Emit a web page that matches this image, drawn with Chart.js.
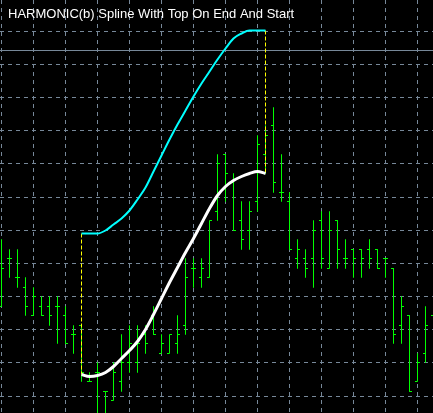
<!DOCTYPE html>
<html>
<head>
<meta charset="utf-8">
<script src="https://cdn.jsdelivr.net/npm/chart.js@4.4.1/dist/chart.umd.min.js"></script>
<style>
html,body{margin:0;padding:0;background:#000;overflow:hidden}
canvas{display:block;background:#000}
</style>
</head>
<body>
<canvas id="c" width="433" height="413"></canvas>
<script>
// ---- data (prices in pips) ----
const TITLE = 'HARMONIC(b) Spline With Top On End And Start';
const OPEN  = [13,18,16,15,12,13,13,13,12,10, 11,5,6,4,3,5,7,7,10,12, 8,8,9,11,17,16,16,23,29,26, 22,21,24,29,32,25,24,18,18,18, 22,17,22,18,19,19,19,19,18,17, 11,12,5,8,12];
const HIGH  = [20,19,19,16,15,14,14,14,13,11, 11,6,7,4,7,10,11,11,11,13, 10,10,12,18,18,18,22,29,29,27, 24,24,31,32,34,29,25,20,19,22, 23,23,22,20,19,19,20,19,18,17, 14,12,8,13,13];
const LOW   = [13,16,15,12,12,12,11,9,9,8, 5,5,1,1,3,4,6,6,8,10, 8,8,8,10,15,15,16,22,24,21, 19,19,23,27,25,24,19,17,16,15, 17,17,17,17,16,16,17,17,16,9, 9,4,5,7,11];
const CLOSE = [17,18,16,13,14,12,12,13,9,10, 6,5,6,4,6,7,9,9,9,10, 9,10,10,16,17,17,22,28,27,21, 20,23,30,31,26,25,19,19,17,21, 18,21,19,18,18,18,18,17,18,10, 13,4,7,11,12];
const SPLINE_START = 10;
const SPLINE_WHITE = [5.74,5.61,5.71,6.03,6.66,7.46,8.35,9.30,10.55,12.15,13.85,15.50,17.12,18.62,20.10,21.70,23.30,24.65,25.60,26.28,26.71,27.02,27.18,26.97];
const SPLINE_CYAN  = [20.64,20.64,20.64,20.96,21.59,22.28,23.12,24.20,25.55,27.15,28.90,30.56,32.14,33.67,35.09,36.46,37.78,38.99,40.21,41.21,41.79,42.05,42.05,42.05];
const BID = 40;

// ---- axis settings ----
const X_MIN = -0.1875, X_MAX = 53.9375;
const Y_MIN = 1.7156, Y_MAX = 45.2943;
const GRID_X_STEP = 4, GRID_Y_STEP = 3.5;
const TICK = 0.3125;

// price scale snapped to whole pixel rows (like the terminal does)
class PixelLinearScale extends Chart.LinearScale {
  getPixelForValue(value) {
    const p = super.getPixelForValue(value);
    return Math.round(p - 0.5) + 0.5;
  }
}
PixelLinearScale.id = 'pixelLinear';
PixelLinearScale.defaults = Chart.LinearScale.defaults;
Chart.register(PixelLinearScale);

// OHLC bars as one gapped polyline
const barPoints = [];
OPEN.forEach((o, i) => {
  barPoints.push(
    {x: i - TICK, y: o}, {x: i, y: o},
    {x: i, y: HIGH[i]}, {x: i, y: LOW[i]},
    {x: i, y: CLOSE[i]}, {x: i + TICK, y: CLOSE[i]},
    {x: i + 0.5, y: null}
  );
});
const whitePts = SPLINE_WHITE.map((v, j) => ({x: SPLINE_START + j, y: v}));
const cyanPts = SPLINE_CYAN.map((v, j) => ({x: SPLINE_START + j, y: v}));
const last = SPLINE_WHITE.length - 1;
const endX = SPLINE_START + last;
const yellowPts = [
  {x: SPLINE_START, y: SPLINE_CYAN[0]}, {x: SPLINE_START, y: SPLINE_WHITE[0]},
  {x: SPLINE_START + 0.5, y: null},
  {x: endX, y: SPLINE_CYAN[last]}, {x: endX, y: SPLINE_WHITE[last]}
];
const bidPts = [{x: X_MIN, y: BID}, {x: X_MAX, y: BID}];

const titlePlugin = {
  id: 'mtTitle',
  afterDraw(chart) {
    const ctx = chart.ctx;
    ctx.save();
    ctx.font = '13px "Liberation Sans", Arial, sans-serif';
    ctx.fillStyle = '#ffffff';
    ctx.textBaseline = 'alphabetic';
    ctx.textAlign = 'left';
    ctx.fillText(TITLE, 8, 18);
    ctx.restore();
  }
};

const GRID_COLOR = '#778899';
const common = {pointRadius: 0, pointHoverRadius: 0, fill: false};

new Chart(document.getElementById('c'), {
  type: 'line',
  data: {
    datasets: [
      Object.assign({label: 'spline', data: whitePts, borderColor: '#ffffff', borderWidth: 3, cubicInterpolationMode: 'monotone', order: 0}, common),
      Object.assign({label: 'top', data: cyanPts, borderColor: '#00ffff', borderWidth: 2, cubicInterpolationMode: 'monotone', order: 1}, common),
      Object.assign({label: 'ends', data: yellowPts, borderColor: '#ffff00', borderWidth: 1, borderDash: [4, 2], order: 2}, common),
      Object.assign({label: 'bars', data: barPoints, borderColor: '#00ff00', borderWidth: 1, order: 3}, common),
      Object.assign({label: 'bid', data: bidPts, borderColor: GRID_COLOR, borderWidth: 1, order: 4}, common)
    ]
  },
  options: {
    responsive: false,
    animation: false,
    events: [],
    layout: {padding: 0, autoPadding: false},
    plugins: {legend: {display: false}, tooltip: {enabled: false}, title: {display: false}},
    scales: {
      x: {
        type: 'linear', min: X_MIN, max: X_MAX,
        ticks: {display: false, stepSize: GRID_X_STEP, includeBounds: false},
        grid: {color: GRID_COLOR, lineWidth: 1, drawTicks: false},
        border: {display: false, dash: [4, 4]}
      },
      y: {
        type: 'pixelLinear', min: Y_MIN, max: Y_MAX,
        ticks: {display: false, stepSize: GRID_Y_STEP, includeBounds: false},
        grid: {color: GRID_COLOR, lineWidth: 1, drawTicks: false},
        border: {display: false, dash: [4, 4]}
      }
    }
  },
  plugins: [titlePlugin]
});
</script>
</body>
</html>
